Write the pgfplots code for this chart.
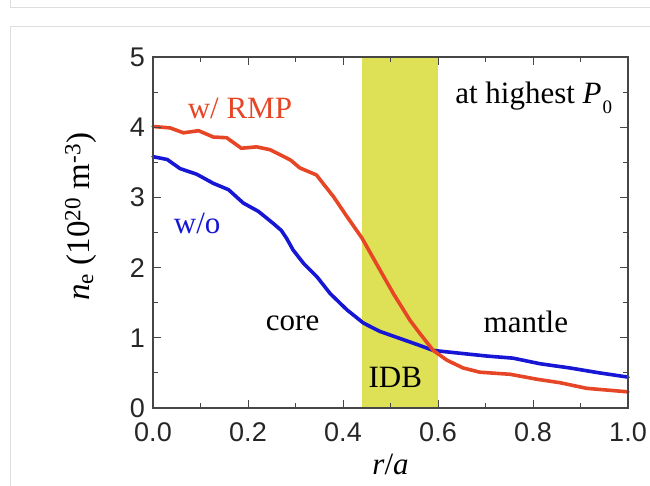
\documentclass[border=0pt]{standalone}
\usepackage{fontspec}
\setmainfont{Liberation Serif}
\newfontfamily\arialfont{Liberation Sans}
\usepackage{pgfplots}
\pgfplotsset{compat=1.18}

\definecolor{rmpred}{RGB}{230,70,38}
\definecolor{woblue}{RGB}{22,22,212}
\definecolor{idbyellow}{RGB}{222,224,86}
\definecolor{framegray}{RGB}{222,222,222}
\definecolor{axisgray}{RGB}{70,70,70}

\newcommand{\annot}{\fontsize{31}{31}\selectfont}

\begin{document}
\begin{tikzpicture}
\useasboundingbox (0,0) rectangle (650pt,486pt);
% page frame
\draw[framegray, line width=1pt] (10pt,486pt) -- (10pt,478pt) -- (650pt,478pt);
\draw[framegray, line width=1pt] (10pt,0pt) -- (10pt,459pt) -- (650pt,459pt);

\begin{axis}[
  at={(153pt,78pt)}, anchor=south west,
  scale only axis, width=475pt, height=351pt,
  xmin=0, xmax=1, ymin=0, ymax=5,
  axis on top,
  axis line style={axisgray, line width=1.2pt},
  tick style={axisgray, line width=1pt},
  tick align=inside,
  major tick length=8pt, minor tick length=5pt,
  xtick={0,0.2,0.4,0.6,0.8,1.0},
  ytick={0,1,2,3,4,5},
  minor x tick num=1, minor y tick num=1,
  xticklabel style={/pgf/number format/fixed, /pgf/number format/fixed zerofill, /pgf/number format/precision=1, yshift=-12pt},
  yticklabel style={xshift=-6pt},
  /pgf/number format/assume math mode=true,
  ticklabel style={font=\arialfont\fontsize{27}{27}\selectfont, text=black!85, inner sep=2pt},
  xlabel={\textit{r}/\textit{a}},
  xlabel style={font=\annot, at={(rel axis cs:0.5,-0.16)}, anchor=center},
  ylabel={\textit{n}\textsubscript{e} (10\textsuperscript{20} m\textsuperscript{-3})},
  ylabel style={font=\fontsize{33}{33}\selectfont, at={(rel axis cs:-0.152,0.545)}, anchor=center, rotate=0},
  clip=false,
]
% IDB region
\addplot[draw=none, fill=idbyellow] coordinates {(0.44,0) (0.44,5) (0.60,5) (0.60,0)} -- cycle;

% w/o RMP
\addplot[woblue, line width=3.6pt, line join=round, line cap=round] coordinates {
(0.000,3.58) (0.030,3.54) (0.057,3.41) (0.092,3.33) (0.127,3.20) (0.159,3.11)
(0.190,2.92) (0.222,2.80) (0.253,2.63) (0.270,2.53) (0.281,2.42) (0.295,2.25)
(0.317,2.06) (0.345,1.87) (0.373,1.63) (0.408,1.40) (0.443,1.21) (0.478,1.09)
(0.520,0.99) (0.562,0.89) (0.590,0.82) (0.632,0.79) (0.703,0.74) (0.758,0.71)
(0.815,0.63) (0.878,0.57) (0.940,0.50) (1.000,0.44)
};

% w/ RMP
\addplot[rmpred, line width=3.6pt, line join=round, line cap=round] coordinates {
(0.000,4.01) (0.036,3.99) (0.064,3.92) (0.096,3.95) (0.127,3.86) (0.155,3.85)
(0.186,3.70) (0.218,3.72) (0.246,3.68) (0.270,3.60) (0.290,3.53) (0.309,3.42)
(0.344,3.32) (0.380,3.01) (0.408,2.73) (0.440,2.42) (0.470,2.06) (0.506,1.63)
(0.541,1.25) (0.562,1.06) (0.576,0.94) (0.590,0.82) (0.619,0.68) (0.653,0.57)
(0.688,0.51) (0.752,0.48) (0.808,0.41) (0.857,0.36) (0.913,0.28) (1.000,0.23)
};

\node[rmpred, font=\annot, anchor=base] at (axis cs:0.183,4.12) {w/ RMP};
\node[woblue, font=\annot, anchor=base] at (axis cs:0.093,2.48) {w/o};
\node[black, font=\annot, anchor=base] at (axis cs:0.294,1.11) {core};
\node[black, font=\annot, anchor=base] at (axis cs:0.785,1.07) {mantle};
\node[black, font=\annot, anchor=base] at (axis cs:0.51,0.285) {IDB};
\node[black, font=\annot, anchor=base west, inner sep=0pt] at (axis cs:0.636,4.34)
  {at highest \textit{P}\kern1pt\raisebox{-10pt}{\fontsize{19}{19}\selectfont 0}};
\end{axis}
\end{tikzpicture}
\end{document}
